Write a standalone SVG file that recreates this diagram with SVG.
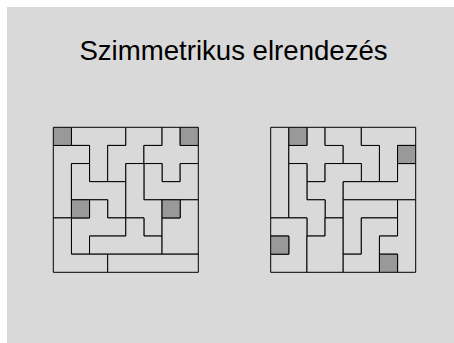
<svg xmlns="http://www.w3.org/2000/svg" width="454" height="343" viewBox="0 0 454 343">
<style>
.p{fill:#d9d9d9;stroke:#000;stroke-width:1;vector-effect:non-scaling-stroke}
.s{fill:#999;stroke:#000;stroke-width:1;vector-effect:non-scaling-stroke}
.t{font-family:"Liberation Sans",Arial,sans-serif;font-size:27.6px;fill:#000}
</style>
<rect x="0" y="0" width="454" height="343" fill="#fff"/>
<rect x="7" y="7" width="447" height="336" fill="#d9d9d9"/>
<text class="t" x="233.5" y="60" text-anchor="middle">Szimmetrikus elrendezés</text>
<g id="left-board" transform="translate(53.3,127.3) scale(18.125)">
<polygon id="L-T" class="p" points="1,0 4,0 4,1 3,1 3,3 2,3 2,1 1,1"/>
<polygon id="L-L" class="p" points="0,1 2,1 2,2 1,2 1,5 0,5"/>
<polygon id="L-W" class="p" points="4,0 6,0 6,1 5,1 5,2 4,2 4,3 3,3 3,1 4,1"/>
<polygon id="L-X" class="p" points="6,0 7,0 7,1 8,1 8,2 7,2 7,3 6,3 6,2 5,2 5,1 6,1"/>
<polygon id="L-U" class="p" points="5,2 6,2 6,3 7,3 7,2 8,2 8,4 5,4"/>
<polygon id="L-Z" class="p" points="1,2 2,2 2,3 4,3 4,5 3,5 3,4 1,4"/>
<polygon id="L-N" class="p" points="4,2 5,2 5,4 6,4 6,6 5,6 5,5 4,5"/>
<polygon id="L-F" class="p" points="2,4 3,4 3,5 4,5 4,6 2,6 2,7 1,7 1,5 2,5"/>
<polygon id="L-Y" class="p" points="4,5 5,5 5,6 6,6 6,7 2,7 2,6 4,6"/>
<polygon id="L-P" class="p" points="7,4 8,4 8,7 6,7 6,5 7,5"/>
<polygon id="L-V" class="p" points="0,5 1,5 1,7 3,7 3,8 0,8"/>
<polygon id="L-I" class="p" points="3,7 8,7 8,8 3,8"/>
<rect class="s" x="0" y="0" width="1" height="1"/>
<rect class="s" x="7" y="0" width="1" height="1"/>
<rect class="s" x="1" y="4" width="1" height="1"/>
<rect class="s" x="6" y="4" width="1" height="1"/>
</g>
<g id="right-board" transform="translate(270.7,127.3) scale(18.125)">
<polygon id="R-I" class="p" points="0,0 1,0 1,5 0,5"/>
<polygon id="R-X" class="p" points="2,0 3,0 3,1 4,1 4,2 3,2 3,3 2,3 2,2 1,2 1,1 2,1"/>
<polygon id="R-W" class="p" points="3,0 5,0 5,1 6,1 6,3 5,3 5,2 4,2 4,1 3,1"/>
<polygon id="R-T" class="p" points="5,0 8,0 8,1 7,1 7,3 6,3 6,1 5,1"/>
<polygon id="R-F" class="p" points="3,2 5,2 5,3 4,3 4,5 3,5 3,4 2,4 2,3 3,3"/>
<polygon id="R-N" class="p" points="1,2 2,2 2,4 3,4 3,6 2,6 2,5 1,5"/>
<polygon id="R-L" class="p" points="7,2 8,2 8,4 4,4 4,3 7,3"/>
<polygon id="R-U" class="p" points="0,5 2,5 2,8 0,8 0,7 1,7 1,6 0,6"/>
<polygon id="R-P" class="p" points="3,5 4,5 4,8 2,8 2,6 3,6"/>
<polygon id="R-V" class="p" points="4,4 7,4 7,5 5,5 5,7 4,7"/>
<polygon id="R-Z" class="p" points="5,5 7,5 7,6 6,6 6,8 4,8 4,7 5,7"/>
<polygon id="R-Y" class="p" points="7,4 8,4 8,8 7,8 7,7 6,7 6,6 7,6"/>
<rect class="s" x="1" y="0" width="1" height="1"/>
<rect class="s" x="7" y="1" width="1" height="1"/>
<rect class="s" x="0" y="6" width="1" height="1"/>
<rect class="s" x="6" y="7" width="1" height="1"/>
</g>
</svg>
